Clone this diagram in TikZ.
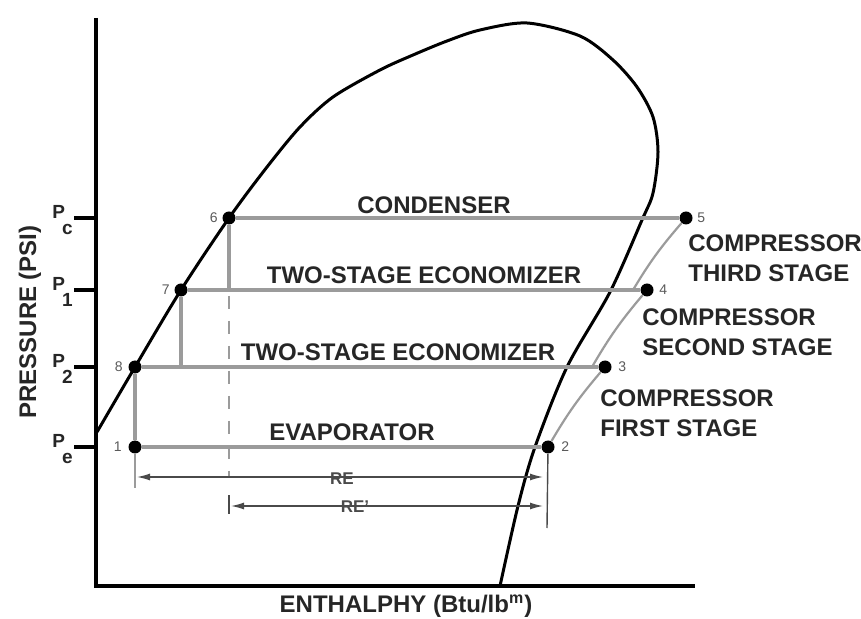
\documentclass[tikz,border=0pt]{standalone}
\usepackage{fontspec}
\setmainfont{Liberation Sans}
\usepackage{xcolor}
\usetikzlibrary{arrows.meta}
\definecolor{phInk}{HTML}{262626}
\definecolor{phGray}{HTML}{9B9B9B}
\definecolor{phNum}{HTML}{5A5A5A}
\definecolor{phDim}{HTML}{4A4A4A}
\tikzset{
  stage/.style={phGray,line width=1.6pt},
  comp/.style={phGray,line width=1.1pt},
  dot/.style={circle,fill=black,inner sep=0pt,minimum size=6.5pt},
  num/.style={phNum,font=\fontsize{7}{8}\selectfont,inner sep=0pt},
  lab/.style={phInk,font=\fontsize{12}{15}\selectfont\bfseries,inner sep=0pt},
  plab/.style={phInk,font=\fontsize{9.5}{11}\selectfont\bfseries,inner sep=0pt},
  relab/.style={phDim,font=\fontsize{8.5}{10}\selectfont\bfseries,inner sep=0pt},
  dim/.style={phDim,line width=0.7pt},
  dimarrow/.style={dim,{Latex[length=6.5pt,width=3.5pt]}-{Latex[length=6.5pt,width=3.5pt]}},
}
\begin{document}
\begin{tikzpicture}[x=0.5pt,y=-0.5pt]
\useasboundingbox (0,0) rectangle (861,619);
% axes and pressure ticks
\draw[line width=2pt,line join=miter] (96,18) -- (96,586) -- (695,586);
\foreach \y/\s [count=\i] in {218/c,290/1,367/2,447/e}{
  \draw[line width=1.6pt] (74,\y) -- (96,\y);
  \node[plab,anchor=base west] (p\i) at (52,\y+1) {P\kern-1.5pt\raisebox{-8pt}{\s}};
}
\node[lab,rotate=90] (ylab) at (30,322) {PRESSURE (PSI)};
\node[lab] (xlab) at (406,606) {ENTHALPHY (Btu/lb\textsuperscript{m})};
% saturation dome
\draw[line width=1.5pt] plot[smooth,tension=0.5] coordinates {(97,432) (135,367) (181,290) (229,218) (267,167) (300,127) (333,97) (380,70) (413,55) (447,41) (480,30) (527,23) (580,36) (613,60) (637,87) (653,117) (658,152) (653,193) (642,220) (610,292) (567,367) (535,447) (518,506) (500,586)};
% state points
\node[dot,label={[num,label distance=3pt]left:1}] (s1) at (135,447) {};
\node[dot,label={[num,label distance=3pt]right:2}] (s2) at (548,447) {};
\node[dot,label={[num,label distance=3pt]right:3}] (s3) at (605,367) {};
\node[dot,label={[num,label distance=2.5pt]right:4}] (s4) at (647,290) {};
\node[dot,label={[num,label distance=2pt]right:5}] (s5) at (686,218) {};
\node[dot,label={[num,label distance=2pt]left:6}] (s6) at (229,218) {};
\node[dot,label={[num,label distance=2pt]left:7}] (s7) at (181,290) {};
\node[dot,label={[num,label distance=2.5pt]left:8}] (s8) at (135,367) {};
\coordinate (m3) at (592,367);
\coordinate (m4) at (633,290);
% cycle lines
\draw[stage] (s6) -- (s5);
\draw[stage] (s7) -- (s4);
\draw[stage] (s8) -- (s3);
\draw[stage] (s1) -- (s2);
\draw[stage] (s6) -- (s6 |- s7);
\draw[stage] (s7) -- (s7 |- s8);
\draw[stage] (s8) -- (s1);
\draw[comp] (s2) to[bend left=5] (s3);
\draw[comp] (m3) to[bend left=5] (s4);
\draw[comp] (m4) to[bend left=5] (s5);
% refrigeration effect
\coordinate (reL) at (135,488);
\coordinate (reR) at (547,528);
\coordinate (reT) at (229,495);
\coordinate (reB) at (229,514);
\draw[phGray,line width=0.8pt] (s1) -- (reL);
\draw[dim] (s2) -- (reR);
\draw[phGray,line width=0.8pt,dash pattern=on 6.5pt off 6pt] (s6 |- s7) ++(0,6) -- (229,476);
\draw[dim] (reT) -- (reB);
\coordinate (reA1) at (137,477);
\coordinate (reA2) at (543,477);
\coordinate (reB1) at (231,506);
\coordinate (reB2) at (543,506);
\draw[dimarrow] (reA1) -- (reA2);
\draw[dimarrow] (reB1) -- (reB2);
\node[relab] (re) at (342,479) {RE};
\node[relab] (rep) at (355,507) {RE'};
% labels
\node[lab] (cond) at (434,205) {CONDENSER};
\node[lab] (eco1) at (424,275) {TWO-STAGE ECONOMIZER};
\node[lab] (eco2) at (398,352) {TWO-STAGE ECONOMIZER};
\node[lab] (evap) at (352,432) {EVAPORATOR};
\node[lab,align=left,anchor=north west] (comp3) at (688,234) {COMPRESSOR\\THIRD STAGE};
\node[lab,align=left,anchor=north west] (comp2) at (642,308) {COMPRESSOR\\SECOND STAGE};
\node[lab,align=left,anchor=north west] (comp1) at (600,389) {COMPRESSOR\\FIRST STAGE};
\end{tikzpicture}
\end{document}
